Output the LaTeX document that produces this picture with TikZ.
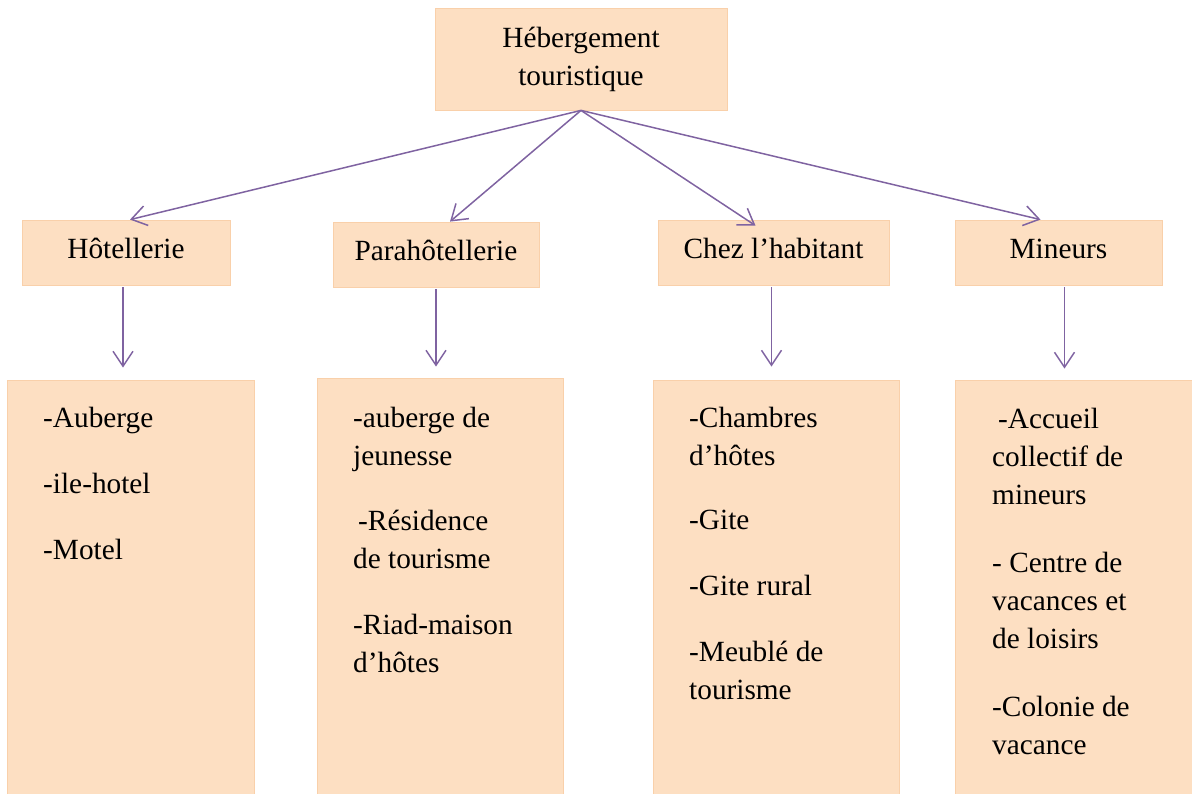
\documentclass[tikz,border=0pt]{standalone}
\usepackage{fontspec}
\setmainfont{Liberation Serif}[Ligatures=TeX]
\usetikzlibrary{arrows.meta}
\definecolor{boxfill}{HTML}{FDDFC2}
\definecolor{boxline}{HTML}{F9D0AA}
\definecolor{linkc}{HTML}{7F63A1}
\tikzset{
  box/.style={draw=boxline, fill=boxfill, line width=0.8pt, inner sep=0pt},
  catbox/.style={box, minimum height=65pt, text height=20pt, text depth=9pt},
  listbox/.style={box, minimum height=415pt},
  list/.style={anchor=base west, inner sep=0pt},
  link/.style={linkc, line width=1.5pt, -{Straight Barb[length=15pt,width=20pt]}}
}
\newcommand{\lst}[1]{\parbox[t]{225pt}{\raggedright #1}}

\begin{document}
\begin{tikzpicture}[x=1pt, y=-1pt, font=\rmfamily\fontsize{29.3}{38}\selectfont]
        \useasboundingbox (0,0) rectangle (1192,793);

        \node [box, minimum width=292pt, minimum height=102pt, align=center] (0) at (581,59) {Hébergement\\touristique};

        \node [catbox, minimum width=208pt] (1) at (126,252.5) {Hôtellerie};
        \node [catbox, minimum width=206pt] (2) at (436,254.5) {Parahôtellerie};
        \node [catbox, minimum width=231pt] (3) at (773.5,252.5) {Chez l’habitant};
        \node [catbox, minimum width=207pt] (4) at (1058.5,252.5) {Mineurs};

        \node [listbox, minimum width=247pt] (11) at (130.5,587.5) {};
        \node [listbox, minimum width=246pt, minimum height=417pt] (21) at (440,586.5) {};
        \node [listbox, minimum width=246pt] (31) at (776,587.5) {};
        \node [listbox, minimum width=240pt] (41) at (1075,587.5) {};

        \node [list] (t1) at (43,427) {\lst{-Auberge\\[28pt]-ile-hotel\\[28pt]-Motel}};
        \node [list] (t2) at (353,427) {\lst{-auberge de\\jeunesse\\[27pt]\hspace*{5pt}-Résidence\\de tourisme\\[28pt]-Riad-maison\\d’hôtes}};
        \node [list] (t3) at (689,427) {\lst{-Chambres\\d’hôtes\\[26pt]-Gite\\[28pt]-Gite rural\\[28pt]-Meublé de\\tourisme}};
        \node [list] (t4) at (992,428) {\lst{\hspace*{6pt}-Accueil\\collectif de\\mineurs\\[30pt]- Centre de\\vacances et\\de loisirs\\[30pt]-Colonie de\\vacance}};

        \draw [link] (0.south) -- ([xshift=4pt]1.north);
        \draw [link] (0.south) -- ([xshift=14pt]2.north);
        \draw [link] (0.south) -- ([xshift=-18pt,yshift=-6pt]3.north);
        \draw [link] (0.south) -- ([xshift=-18pt]4.north);

        \draw [link, shorten <=2pt, shorten >=12pt] ([xshift=-3pt]1.south) -- ([xshift=-3pt]1.south |- 11.north);
        \draw [link, shorten <=2pt, shorten >=11pt] (2.south) -- (2.south |- 21.north);
        \draw [link, shorten <=2pt, shorten >=13pt] ([xshift=-2pt]3.south) -- ([xshift=-2pt]3.south |- 31.north);
        \draw [link, shorten <=2pt, shorten >=11pt] ([xshift=6pt]4.south) -- ([xshift=6pt]4.south |- 41.north);
      \end{tikzpicture}
\end{document}
